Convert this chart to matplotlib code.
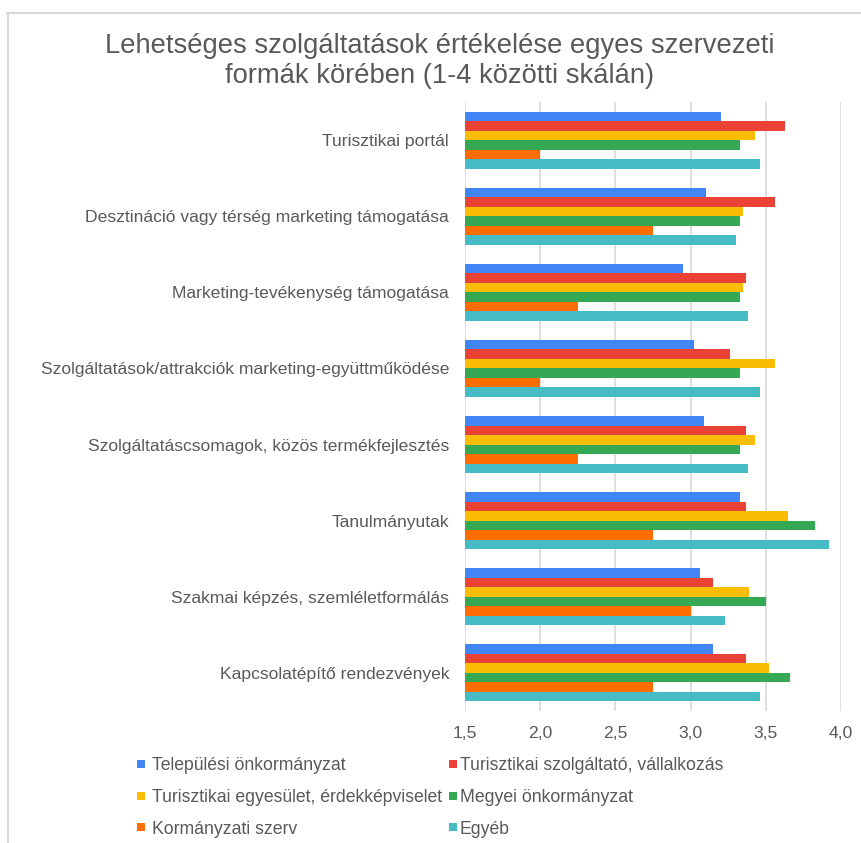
import matplotlib
matplotlib.use("Agg")
import matplotlib.pyplot as plt
from matplotlib.patches import Rectangle
from matplotlib.lines import Line2D
import numpy as np

plt.rcParams['font.family'] = ['Liberation Sans', 'DejaVu Sans']

title = "Lehetséges szolgáltatások értékelése egyes szervezeti\nformák körében (1-4 közötti skálán)"

categories = [
    "Turisztikai portál",
    "Desztináció vagy térség marketing támogatása",
    "Marketing-tevékenység támogatása",
    "Szolgáltatások/attrakciók marketing-együttműködése",
    "Szolgáltatáscsomagok, közös termékfejlesztés",
    "Tanulmányutak",
    "Szakmai képzés, szemléletformálás",
    "Kapcsolatépítő rendezvények",
]

series_names = [
    "Települési önkormányzat",
    "Turisztikai szolgáltató, vállalkozás",
    "Turisztikai egyesület, érdekképviselet",
    "Megyei önkormányzat",
    "Kormányzati szerv",
    "Egyéb",
]

telepulesi = [3.20, 3.10, 2.95, 3.02, 3.09, 3.33, 3.06, 3.15]
szolgaltato = [3.63, 3.56, 3.37, 3.26, 3.37, 3.37, 3.15, 3.37]
egyesulet = [3.43, 3.35, 3.35, 3.56, 3.43, 3.65, 3.39, 3.52]
megyei = [3.33, 3.33, 3.33, 3.33, 3.33, 3.83, 3.50, 3.66]
kormanyzati = [2.00, 2.75, 2.25, 2.00, 2.25, 2.75, 3.00, 2.75]
egyeb = [3.46, 3.30, 3.38, 3.46, 3.38, 3.92, 3.23, 3.46]

x_ticks = [1.5, 2.0, 2.5, 3.0, 3.5, 4.0]
x_tick_labels = ["1,5", "2,0", "2,5", "3,0", "3,5", "4,0"]

series = [telepulesi, szolgaltato, egyesulet, megyei, kormanyzati, egyeb]
colors = ["#4285F4", "#EA4335", "#FBBC04", "#34A853", "#FF6D01", "#46BDC6"]
text_color = "#595959"

W, H = 862, 843
fig = plt.figure(figsize=(W / 100, H / 100), dpi=100)
ax = fig.add_axes([465 / W, 1 - 711 / H, (841 - 465) / W, (711 - 102) / H])

n_cat = len(categories)
bar_h = 0.125
base = np.arange(n_cat)
for i, (vals, c) in enumerate(zip(series, colors)):
    y = base - 0.375 + bar_h * (i + 0.5)
    ax.barh(y, np.array(vals) - 1.5, left=1.5, height=bar_h, color=c,
            edgecolor='none', zorder=3, label=series_names[i])

ax.set_xlim(1.5, 4.0)
ax.set_ylim(n_cat - 0.5, -0.5)
ax.set_xticks(x_ticks)
ax.set_xticklabels(x_tick_labels)
ax.set_yticks(base)
ax.set_yticklabels(categories)
ax.xaxis.grid(True, color="#d9d9d9", linewidth=1.2, zorder=0)
for s in ax.spines.values():
    s.set_visible(False)
ax.tick_params(axis='both', length=0, colors=text_color, labelsize=12.6)
ax.tick_params(axis='x', pad=11)
ax.tick_params(axis='y', pad=11.5)

fig.text(440 / W, 1 - 61 / H, title, ha='center', va='center', fontsize=19.7,
         color=text_color, linespacing=1.2)

# figure border (top and left)
fig.add_artist(Line2D([7 / W, 1.0], [1 - 13 / H, 1 - 13 / H], color="#d9d9d9", linewidth=1.5))
fig.add_artist(Line2D([8 / W, 8 / W], [0.0, 1 - 13 / H], color="#d9d9d9", linewidth=1.5))

# legend, row-wise in two columns
order = [0, 1, 2, 3, 4, 5]
col_marker_x = [137, 449]
col_text_x = [152, 460]
row_y = [764, 795.5, 827]
msize = 8
for k, i in enumerate(order):
    r, c = divmod(k, 2)
    yc = row_y[r]
    fig.add_artist(Rectangle((col_marker_x[c] / W, 1 - (yc + msize / 2) / H),
                             msize / W, msize / H, transform=fig.transFigure,
                             facecolor=colors[i], edgecolor='none'))
    fig.text(col_text_x[c] / W, 1 - yc / H, series_names[i], ha='left',
             va='center_baseline', fontsize=12.7, color=text_color)

fig.savefig("out.png", dpi=100)
